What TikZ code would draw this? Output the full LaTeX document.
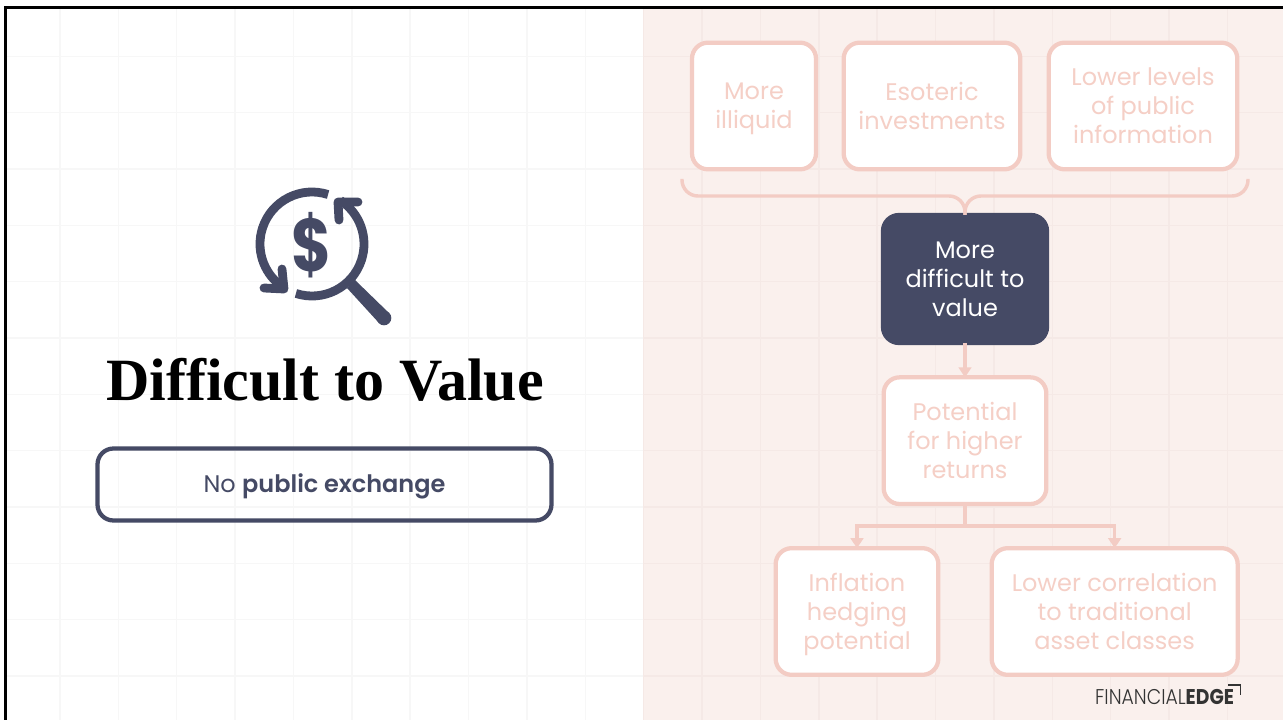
\documentclass[tikz,border=0pt]{standalone}
\usepackage{fontspec}
\usepackage{tikz}
\usetikzlibrary{arrows.meta}
\usetikzlibrary{positioning}
\setmainfont{Poppins}
\newfontfamily\headfont{Liberation Serif}
\newfontfamily\logothin{Poppins Light}
\newfontfamily\semifont{Poppins SemiBold}
\definecolor{slate}{HTML}{454A65}
\definecolor{blush}{HTML}{F3CCC4}
\definecolor{blushtext}{HTML}{F5CFC6}
\definecolor{panel}{HTML}{FAF0ED}
\definecolor{gridwhite}{HTML}{F7F7F7}
\definecolor{gridpanel}{HTML}{F5E9E6}
\newcommand\nodepth[1]{\raisebox{0pt}[\height][0pt]{#1}}

\begin{document}
\begin{tikzpicture}[x=.75pt,y=-.75pt,>={Triangle[length=7.5pt,width=9.5pt]},
  box/.style={rectangle,rounded corners=12pt,draw=blush,fill=white,line width=3.2pt,
    outer sep=0pt,text=blushtext,align=center,minimum height=95pt,inner sep=0pt,
    font=\fontsize{18}{21.75}\selectfont},
  link/.style={draw=blush,line width=2.6pt}]

  \useasboundingbox (0,0) rectangle (1283,720);

  % background
  \fill[white] (0,0) rectangle (1283,720);
  \foreach \k in {0,...,19}
    \draw[gridwhite,line width=1.1pt] ({60+58.37*\k},9) -- ({60+58.37*\k},720);
  \foreach \k in {1,...,12}
    \draw[gridwhite,line width=1.1pt] (7,{56.33*\k}) -- (643,{56.33*\k});
  \fill[panel] (643,9) rectangle (1283,720);
  \foreach \k in {10,...,20}
    \draw[gridpanel,line width=1.1pt] ({60+58.37*\k},9) -- ({60+58.37*\k},720);
  \foreach \k in {1,...,12}
    \draw[gridpanel,line width=1.1pt] (643,{56.33*\k}) -- (1283,{56.33*\k});
  \draw[line width=2.25pt] (5.5,720) |- (1283,7.5);

  % right side
  \node[box,minimum width=93pt] (illiquid) at (754,106) {More\\\nodepth{illiquid}};
  \node[box,minimum width=132.5pt,right=20.75pt of illiquid] (esoteric) {Esoteric\\investments};
  \node[box,minimum width=141.5pt,right=21.25pt of esoteric] (info) {Lower levels\\of public\\information};

  \node[box,minimum width=123pt,draw=slate,fill=slate,text=white,minimum height=96pt] (value) at (965,279) {More\\difficult to\\value};
  \node[box,minimum width=122pt,below=25.75pt of value] (returns) {Potential\\for higher\\returns};
  \node[box,minimum width=122pt] (hedge) at (857,611.5) {Inflation\\hedging\\\nodepth{potential}};
  \node[box,minimum width=184.5pt,right=40pt of hedge] (asset) {Lower correlation\\to traditional\\asset classes};

  \coordinate (bl) at (682,179);
  \coordinate (br) at (1248,179);
  \coordinate[above=14.25pt of value] (bm);
  \coordinate[below=16.5pt of returns] (split);

  \draw[link,rounded corners=12pt] (bl) |- (bm) -- (value.north);
  \draw[link,rounded corners=12pt] (br) |- (bm) -- (value.north);
  \draw[link,->] (value.south) -- (returns.north);
  \draw[link] (returns.south) -- (split);
  \draw[link,->] (split) -| (hedge.north);
  \draw[link,->] (split) -| (asset.north);

  % left side
  \begin{scope}[slate,line width=6.6pt,line cap=round,line join=round]
    \draw[line cap=butt] (312,244) ++(72:39pt) arc[start angle=72,end angle=233,radius=39pt];
    \draw (264,288) -- (284,289) -- (282,269);
    \draw[line cap=butt] (312,244) ++(252:39pt) arc[start angle=252,end angle=417,radius=39pt];
    \draw (358,202) -- (338,202) -- (339,220);
    \fill (347,288) -- (355,280) -- (389,313) -- (379,323) -- cycle;
    \fill (384,318) circle[radius=5.5pt];
  \end{scope}
  \node[text=slate,xscale=.82,font=\fontsize{56}{56}\bfseries\selectfont] (dollar) at (312,245) {\$};

  \node[font=\headfont\fontsize{45}{50}\bfseries\selectfont] (title) at (325,380) {Difficult to Value};
  \node[rectangle,rounded corners=12pt,draw=slate,line width=3.2pt,minimum width=340.5pt,minimum height=54pt,
    text=slate,font=\fontsize{18}{22}\selectfont] (exchange) at (324.5,484.5) {\raisebox{.75pt}[\height][0pt]{No {\semifont public exchange}}};

  % logo
  \node[text=black!80,inner sep=0pt,anchor=west,xscale=.88,font=\fontsize{16}{18}\selectfont] (logo) at (1095,697)
    {{\logothin FINANCIAL}\textbf{EDGE}};
  \draw[black!80,line width=1.2pt] (1228,685) -- (1240.5,685) -- (1240.5,695);
\end{tikzpicture}
\end{document}
